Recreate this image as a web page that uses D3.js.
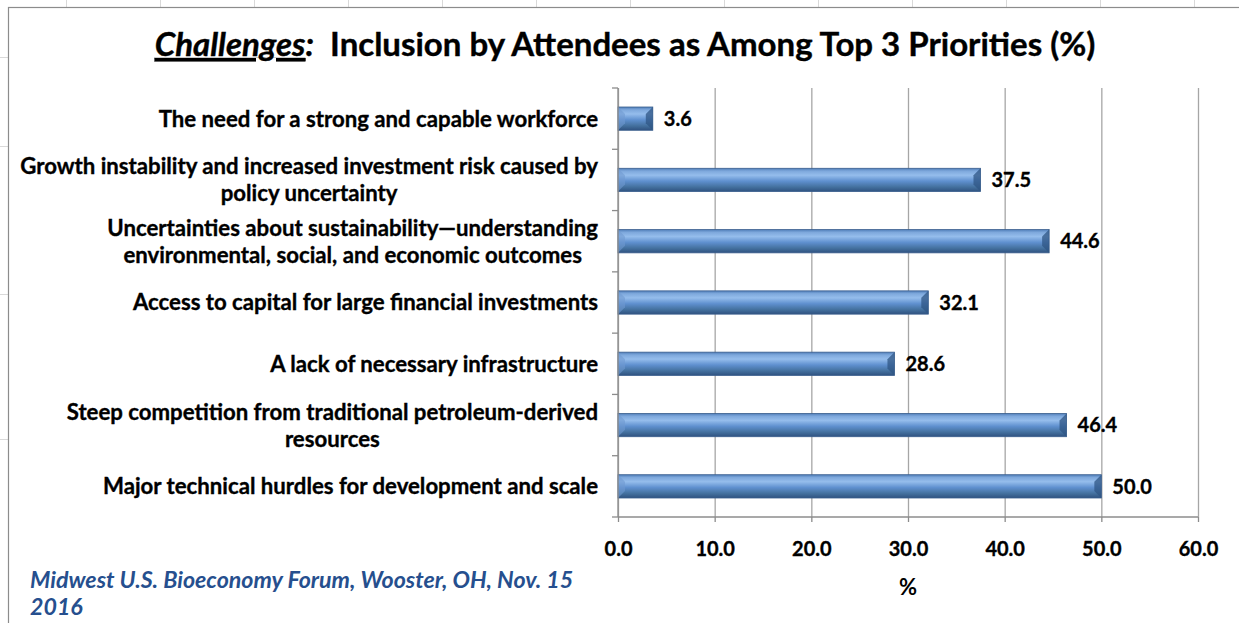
<!DOCTYPE html>
<html>
<head>
<meta charset="utf-8">
<script src="https://cdn.jsdelivr.net/npm/d3@7"></script>
<style>
  body { margin: 0; background: #fff; }
  svg { display: block; }
  text { font-family: Lato, "Open Sans", sans-serif; }
</style>
</head>
<body>
<svg id="mainsvg" width="1239" height="623"></svg>
<script>
// chart data, top to bottom as drawn
var categories = [
    "The need for a strong and capable workforce",
    "Growth instability and increased investment risk caused by|policy uncertainty",
    "Uncertainties about sustainability\u2014understanding|environmental, social, and economic outcomes",
    "Access to capital for large financial investments",
    "A lack of necessary infrastructure",
    "Steep competition from traditional petroleum-derived|resources",
    "Major technical hurdles for development and scale"
];
var values = [3.6, 37.5, 44.6, 32.1, 28.6, 46.4, 50.0];
var xTicks = [0, 10, 20, 30, 40, 50, 60];

var titleItalic = "Challenges:";
var titleRest = "Inclusion by Attendees as Among Top 3 Priorities (%)";
var axisTitle = "%";
var sourceLines = ["Midwest U.S. Bioeconomy Forum, Wooster, OH, Nov. 15", "2016"];

var svg = d3.select("#mainsvg");

// spreadsheet cells behind the chart
var sheet = svg.append("g").attr("stroke", "#d9d9d9").attr("stroke-width", 1);
d3.range(66, 1239, 94).forEach(function(x){
    sheet.append("line").attr("x1", x + 0.5).attr("x2", x + 0.5).attr("y1", 0).attr("y2", 7);
});
[57, 146, 294, 439].forEach(function(y){
    sheet.append("line").attr("x1", 0).attr("x2", 8).attr("y1", y + 0.5).attr("y2", y + 0.5);
});

// chart frame
svg.append("rect")
    .attr("x", 8.5).attr("y", 7.5)
    .attr("width", 1240).attr("height", 630)
    .attr("fill", "#fff")
    .attr("stroke", "#8c8c8c")
    .attr("stroke-width", 1.2);

var plot = {left: 618, right: 1198, top: 88, bottom: 517};

var x = d3.scaleLinear().domain([0, 60]).range([plot.left, plot.right]);
var y = d3.scaleBand().domain(d3.range(categories.length))
    .range([plot.top, plot.bottom]).paddingInner(0.62).paddingOuter(0.31);

// bar gradient (cylinder look)
var defs = svg.append("defs");
var grad = defs.append("linearGradient").attr("id", "barGrad")
    .attr("x1", 0).attr("y1", 0).attr("x2", 0).attr("y2", 1);
[[0, "#4f7db8"], [0.12, "#7ea8dc"], [0.3, "#95bdec"], [0.55, "#5f90cf"],
 [0.8, "#44719f"], [1, "#2f5280"]].forEach(function(s){
    grad.append("stop").attr("offset", s[0]).attr("stop-color", s[1]);
});

// gridlines
svg.append("g")
    .attr("transform", "translate(0," + plot.top + ")")
    .call(d3.axisTop(x).tickValues(xTicks).tickSize(-(plot.bottom - plot.top)).tickFormat(""))
    .call(function(g){
        g.select(".domain").remove();
        g.selectAll("line").attr("stroke", "#a6a6a6").attr("stroke-width", 1.3);
    });

// bars
var bars = svg.append("g").selectAll("g.bar")
    .data(values).enter().append("g").attr("class", "bar");

bars.append("rect")
    .attr("x", x(0))
    .attr("y", function(d, i){ return y(i); })
    .attr("width", function(d){ return x(d) - x(0); })
    .attr("height", y.bandwidth())
    .attr("fill", "url(#barGrad)")
    .attr("stroke", "#3b5f8e")
    .attr("stroke-width", 0.8);

// bevel at the ends
bars.append("path")
    .attr("d", function(d, i){
        var x1 = x(d), y0 = y(i), h = y.bandwidth(), b = 7;
        return "M" + x1 + "," + y0 + "L" + (x1 - b) + "," + (y0 + b) +
            "L" + (x1 - b) + "," + (y0 + h - b) + "L" + x1 + "," + (y0 + h) + "Z";
    })
    .attr("fill", "#2f5584").attr("opacity", 0.75);
bars.append("path")
    .attr("d", function(d, i){
        var x0 = x(0), y0 = y(i), h = y.bandwidth(), b = 7;
        return "M" + x0 + "," + y0 + "L" + (x0 + b) + "," + (y0 + b) +
            "L" + (x0 + b) + "," + (y0 + h - b) + "L" + x0 + "," + (y0 + h) + "Z";
    })
    .attr("fill", "#6f9ad0").attr("opacity", 0.6);

// value labels
bars.append("text")
    .attr("x", function(d){ return x(d) + 11; })
    .attr("y", function(d, i){ return y(i) + y.bandwidth() / 2; })
    .attr("dy", "0.36em")
    .attr("font-size", 20).attr("font-weight", "bold").attr("fill", "#000")
    .attr("stroke", "#000").attr("stroke-width", 0.35)
    .text(function(d){ return d3.format(".1f")(d); });

// x axis
svg.append("g")
    .attr("transform", "translate(0," + plot.bottom + ")")
    .call(d3.axisBottom(x).tickValues(xTicks).tickSize(5).tickPadding(20).tickFormat(d3.format(".1f")))
    .call(function(g){
        g.select(".domain").attr("stroke", "#8c8c8c").attr("stroke-width", 1.3)
            .attr("d", "M" + plot.left + ",0H" + plot.right);
        g.selectAll("line").attr("stroke", "#8c8c8c").attr("stroke-width", 1.3);
        g.selectAll("text").attr("font-size", 20).attr("font-weight", "bold")
            .attr("fill", "#000").attr("stroke", "#000").attr("stroke-width", 0.35)
            .style("font-family", "Lato, sans-serif");
    });

// y axis line and boundary ticks
var yAxis = svg.append("g").attr("stroke", "#8c8c8c").attr("stroke-width", 1.3);
yAxis.append("line").attr("x1", plot.left).attr("x2", plot.left)
    .attr("y1", plot.top).attr("y2", plot.bottom);
var step = y.step();
d3.range(categories.length + 1).forEach(function(k){
    var yy = plot.top + k * step;
    yAxis.append("line").attr("x1", plot.left - 6).attr("x2", plot.left)
        .attr("y1", yy).attr("y2", yy);
});

// category labels, right edge at 598, lines centred on each other
var labelRight = 598, lineH = 27;
var labels = svg.append("g").selectAll("text")
    .data(categories).enter().append("text")
    .attr("font-size", 22.2).attr("font-weight", "bold").attr("fill", "#000")
    .attr("stroke", "#000").attr("stroke-width", 0.35)
    .attr("text-anchor", "middle");
labels.each(function(c, i){
    var lines = c.split("|");
    var t = d3.select(this);
    var cy = y(i) + y.bandwidth() / 2;
    var first = cy - (lines.length - 1) * lineH / 2;
    lines.forEach(function(l, j){
        t.append("tspan").attr("y", first + j * lineH).attr("dy", "0.36em").text(l);
    });
    var maxW = 0;
    t.selectAll("tspan").each(function(){
        maxW = Math.max(maxW, this.getComputedTextLength());
    });
    t.selectAll("tspan").attr("x", labelRight - maxW / 2);
});

// title
var title = svg.append("text")
    .attr("x", 625).attr("y", 56)
    .attr("text-anchor", "middle")
    .attr("font-size", 33).attr("font-weight", "bold").attr("fill", "#000")
    .attr("stroke", "#000").attr("stroke-width", 0.4);
title.append("tspan").attr("font-style", "italic").attr("text-decoration", "underline")
    .text(titleItalic.replace(":", ""));
title.append("tspan").attr("font-style", "italic").text(":");
title.append("tspan").text("\u00a0 " + titleRest);

// axis title
svg.append("text")
    .attr("x", (plot.left + plot.right) / 2).attr("y", 595)
    .attr("text-anchor", "middle")
    .attr("font-size", 22).attr("font-weight", "bold").attr("fill", "#000")
    .text(axisTitle);

// source note
svg.append("g").selectAll("text")
    .data(sourceLines).enter().append("text")
    .attr("x", 30).attr("y", function(d, i){ return 588 + i * 27; })
    .attr("font-size", 23.2).attr("font-weight", "bold").attr("font-style", "italic")
    .attr("fill", "#264f8e")
    .text(function(d){ return d; });
</script>
</body>
</html>
